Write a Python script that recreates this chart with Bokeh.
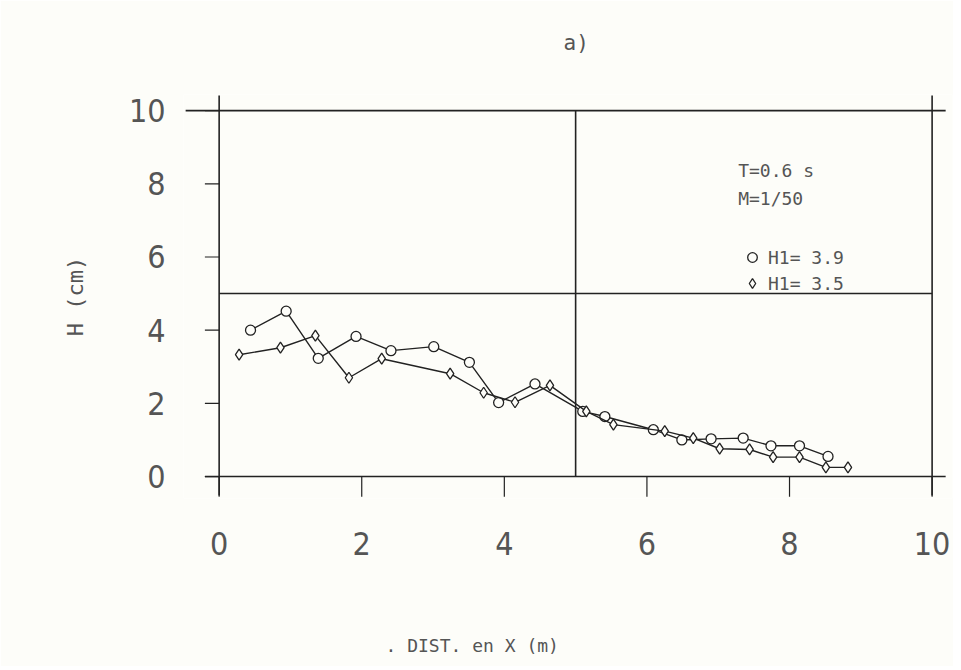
from bokeh.plotting import figure
from bokeh.models import Range1d, FixedTicker, Label, Legend, LegendItem, Title
from bokeh.embed import file_html
from bokeh.resources import INLINE

# ---- data ----
dist_h39 = [0.44, 0.94, 1.39, 1.92, 2.41, 3.01, 3.51, 3.92, 4.43, 5.10, 5.41, 6.09, 6.49, 6.90, 7.35, 7.74, 8.14, 8.54]
h_h39 = [4.00, 4.52, 3.23, 3.83, 3.44, 3.55, 3.12, 2.02, 2.53, 1.78, 1.64, 1.28, 1.00, 1.03, 1.05, 0.84, 0.84, 0.55]
dist_h35 = [0.28, 0.86, 1.35, 1.82, 2.28, 3.24, 3.71, 4.15, 4.64, 5.15, 5.53, 6.25, 6.65, 7.02, 7.44, 7.77, 8.14, 8.51, 8.82]
h_h35 = [3.33, 3.52, 3.85, 2.70, 3.22, 2.81, 2.29, 2.03, 2.49, 1.78, 1.42, 1.24, 1.05, 0.76, 0.74, 0.53, 0.53, 0.25, 0.25]
x_ticks = [0, 2, 4, 6, 8, 10]
y_ticks = [0, 2, 4, 6, 8, 10]
series_labels = ["H1= 3.9", "H1= 3.5"]
note_lines = ["T=0.6 s", "M=1/50"]

FONT = "'DejaVu Sans Mono', monospace"
NUMFONT = "'Liberation Sans Narrow', 'DejaVu Sans Condensed', 'DejaVu Sans Mono', sans-serif"
INK = "#222222"
TXT = "#555555"
BG = "#fdfdf9"

p = figure(frame_width=769, frame_height=404,
           min_border_left=183, min_border_right=1, min_border_top=94, min_border_bottom=168,
           x_range=Range1d(-0.5, 10.286), y_range=Range1d(-0.6, 10.44),
           output_backend="svg", toolbar_location=None)
p.background_fill_color = BG
p.border_fill_color = BG
p.outline_line_color = None
p.grid.visible = False

# spacer above the frame, then the title "a)" outside it
p.add_layout(Title(text=" ", text_font_size="1px", standoff=37), "above")
p.title.text = "a)"
p.title.align = "left"
p.title.offset = 380
p.title.text_font = FONT
p.title.text_font_size = "21px"
p.title.text_font_style = "normal"
p.title.text_color = TXT
p.title.standoff = 0

# axes: labels only, frame drawn below as segments
for ax in (p.xaxis[0], p.yaxis[0]):
    ax.axis_line_color = None
    ax.major_tick_line_color = None
    ax.minor_tick_line_color = None
    ax.major_tick_out = 0
    ax.major_tick_in = 0
    ax.major_label_text_font = NUMFONT
    ax.major_label_text_font_size = "32px"
    ax.major_label_text_color = TXT
p.xaxis.ticker = FixedTicker(ticks=x_ticks)
p.yaxis.ticker = FixedTicker(ticks=y_ticks)
p.xaxis.major_label_standoff = 33
p.yaxis.major_label_standoff = 18

p.yaxis.axis_label = "H (cm)"
p.yaxis.axis_label_text_font = FONT
p.yaxis.axis_label_text_font_size = "22px"
p.yaxis.axis_label_text_font_style = "normal"
p.yaxis.axis_label_text_color = TXT
p.yaxis.axis_label_standoff = 38

# x-axis caption: spacer below the tick labels, then the caption (left part)
p.add_layout(Title(text=" ", text_font_size="1px", standoff=72), "below")
p.add_layout(Title(text=". DIST. en X (m)", align="left", offset=202, standoff=0,
                   text_font=FONT, text_font_size="18px", text_font_style="normal",
                   text_color=TXT), "below")

# frame structure derived from the tick ranges
x0, x1 = x_ticks[0], x_ticks[-1]
y0, y1 = y_ticks[0], y_ticks[-1]
xm, ym = (x0 + x1) / 2, (y0 + y1) / 2
seg_x0 = [x0 - 0.47, x0 - 0.2, x0, x0, x1, xm]
seg_x1 = [x1 + 0.19, x1 + 0.19, x1, x0, x1, xm]
seg_y0 = [y1, y0, ym, y0 - 0.52, y0 - 0.52, y0]
seg_y1 = [y1, y0, ym, y1 + 0.41, y1 + 0.41, y1]
p.segment(seg_x0, seg_y0, seg_x1, seg_y1, line_color=INK, line_width=1.6)
# ticks
p.segment([x0 - 0.2] * len(y_ticks), y_ticks, [x0] * len(y_ticks), y_ticks, line_color=INK, line_width=1.2)
p.segment(x_ticks, [y0 - 0.55] * len(x_ticks), x_ticks, [y0] * len(x_ticks), line_color=INK, line_width=1.2)

# data series
p.line(dist_h39, h_h39, line_color=INK, line_width=1.4)
r39 = p.scatter(dist_h39, h_h39, marker="circle", size=10, line_color=INK, line_width=1.3, fill_color=BG)
p.line(dist_h35, h_h35, line_color=INK, line_width=1.4)
r35 = p.scatter(dist_h35, h_h35, marker="diamond", size=11, line_color=INK, line_width=1.3, fill_color=BG)

legend = Legend(items=[LegendItem(label=series_labels[0], renderers=[r39]),
                       LegendItem(label=series_labels[1], renderers=[r35])],
                location=(557, 203), padding=0, margin=0, spacing=2,
                glyph_width=24, glyph_height=24, label_height=20, label_standoff=4,
                background_fill_alpha=0, border_line_color=None,
                label_text_font=FONT, label_text_font_size="18px", label_text_color=TXT)
p.add_layout(legend)

for txt, yy in zip(note_lines, [8.36, 7.6]):
    p.add_layout(Label(x=7.28, y=yy, text=txt, text_font=FONT, text_font_size="18px",
                       text_color=TXT, text_baseline="middle", text_align="left"))

open("out.html", "w").write(file_html(p, INLINE))
